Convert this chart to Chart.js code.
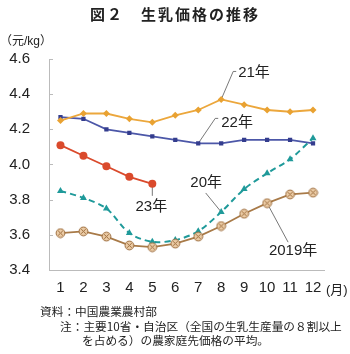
<!DOCTYPE html>
<html lang="ja">
<head>
<meta charset="utf-8">
<script src="https://cdn.jsdelivr.net/npm/chart.js@4/dist/chart.umd.min.js"></script>
<style>
  html, body { margin: 0; padding: 0; background: #fff; }
  #wrap { position: relative; width: 350px; height: 354px; overflow: hidden;
          font-family: "Liberation Sans", "Noto Sans CJK JP", sans-serif; color: #222; }
  #wrap canvas { position: absolute; left: 0; top: 0; }
  .txt { position: absolute; white-space: nowrap; line-height: 1; }
  #title { left: 0; width: 350px; text-align: center; top: 6px; font-size: 15px; font-weight: bold;
           letter-spacing: 2px; font-family: "Noto Sans CJK JP", sans-serif; }
  #unit { left: 0; top: 35px; font-size: 12px; }
  #month { left: 326px; top: 283px; font-size: 13px; }
  .note { font-size: 11.7px; font-family: "Noto Sans CJK JP", sans-serif; }
</style>
</head>
<body>
<div id="wrap">
  <canvas id="chart" width="350" height="354"></canvas>
  <div class="txt" id="title">図２　生乳価格の推移</div>
  <div class="txt" id="unit">（元/kg）</div>
  <div class="txt" id="month">(月)</div>
  <div class="txt note" style="left:40px; top:305px;">資料：中国農業農村部</div>
  <div class="txt note" style="left:60px; top:320px;">注：主要10省・自治区（全国の生乳生産量の８割以上</div>
  <div class="txt note" style="left:82px; top:334px;">を占める）の農家庭先価格の平均。</div>
</div>
<script>
const months = ['1', '2', '3', '4', '5', '6', '7', '8', '9', '10', '11', '12'];
const y2019 = [3.61, 3.62, 3.59, 3.54, 3.53, 3.55, 3.59, 3.65, 3.72, 3.78, 3.83, 3.84];
const y2020 = [3.85, 3.81, 3.75, 3.61, 3.56, 3.57, 3.62, 3.73, 3.86, 3.95, 4.03, 4.15];
const y2021 = [4.25, 4.29, 4.29, 4.26, 4.24, 4.28, 4.31, 4.37, 4.34, 4.31, 4.30, 4.31];
const y2022 = [4.27, 4.26, 4.20, 4.18, 4.16, 4.14, 4.12, 4.12, 4.14, 4.14, 4.14, 4.12];
const y2023 = [4.11, 4.05, 3.99, 3.93, 3.89];
const seriesNames = ['2019年', '20年', '21年', '22年', '23年'];

const FONT = '"Liberation Sans", "Noto Sans CJK JP", sans-serif';

// circled x marker for 2019
function makeCrossCircle() {
    const c = document.createElement('canvas');
    c.width = 11; c.height = 11;
    const g = c.getContext('2d');
    g.fillStyle = '#EBCBA5';
    g.strokeStyle = '#9B6B3B';
    g.lineWidth = 1;
    g.beginPath(); g.arc(5.5, 5.5, 4.4, 0, Math.PI * 2); g.fill(); g.stroke();
    g.beginPath();
    g.moveTo(3.2, 3.2); g.lineTo(7.8, 7.8);
    g.moveTo(7.8, 3.2); g.lineTo(3.2, 7.8);
    g.stroke();
    return c;
}

// label text + leader line, offsets from the anchor point
const callouts = [
    { ds: 2, idx: 7, lead: [[12, -28], [15, -28]], text: seriesNames[2], tx: 17, ty: -26.5, align: 'left' },
    { ds: 3, idx: 6, lead: [[17, -25], [20, -25]], text: seriesNames[3], tx: 23, ty: -21, align: 'left' },
    { ds: 4, idx: 4, lead: [[0, 12]], text: seriesNames[4], tx: -1, ty: 23, align: 'center' },
    { ds: 1, idx: 7, lead: [[-15.5, -19]], text: seriesNames[1], tx: -15, ty: -29.5, align: 'center' },
    { ds: 0, idx: 9, lead: [[21, 39]], text: seriesNames[0], tx: 26, ty: 48, align: 'center' }
];

const calloutPlugin = {
    id: 'callouts',
    beforeDatasetsDraw(chart) {
        const ctx = chart.ctx;
        ctx.save();
        ctx.strokeStyle = '#555';
        ctx.lineWidth = 0.8;
        callouts.forEach(c => {
            const p = chart.getDatasetMeta(c.ds).data[c.idx];
            ctx.beginPath();
            ctx.moveTo(p.x, p.y);
            c.lead.forEach(([dx, dy]) => ctx.lineTo(p.x + dx, p.y + dy));
            ctx.stroke();
        });
        ctx.restore();
    },
    afterDraw(chart) {
        const ctx = chart.ctx;
        ctx.save();
        ctx.fillStyle = '#222';
        ctx.font = '15px ' + FONT;
        ctx.textBaseline = 'middle';
        callouts.forEach(c => {
            const p = chart.getDatasetMeta(c.ds).data[c.idx];
            ctx.textAlign = c.align;
            ctx.fillText(c.text, p.x + c.tx, p.y + c.ty);
        });
        // small inner ticks on the y axis
        const ys = chart.scales.y;
        ctx.strokeStyle = '#bbb';
        ctx.lineWidth = 1;
        ys.ticks.forEach(t => {
            const y = Math.round(ys.getPixelForValue(t.value)) + 0.5;
            ctx.beginPath();
            ctx.moveTo(ys.right, y);
            ctx.lineTo(ys.right + 4, y);
            ctx.stroke();
        });
        ctx.restore();
    }
};

new Chart(document.getElementById('chart'), {
    type: 'line',
    data: {
        labels: months,
        datasets: [{
            label: seriesNames[0],
            data: y2019,
            borderColor: '#A87A48',
            borderWidth: 1.8,
            pointStyle: makeCrossCircle(),
            tension: 0
        }, {
            label: seriesNames[1],
            data: y2020,
            borderColor: '#1F9A9A',
            borderWidth: 2,
            borderDash: [6, 4],
            pointStyle: 'triangle',
            pointRadius: 4,
            pointBackgroundColor: '#1F9A9A',
            pointBorderColor: '#1F9A9A',
            pointBorderWidth: 0,
            tension: 0.3
        }, {
            label: seriesNames[2],
            data: y2021,
            borderColor: '#ECA73C',
            borderWidth: 1.8,
            pointStyle: 'rectRot',
            pointRadius: 3.5,
            pointBackgroundColor: '#E9A232',
            pointBorderColor: '#E9A232',
            pointBorderWidth: 0,
            tension: 0
        }, {
            label: seriesNames[3],
            data: y2022,
            borderColor: '#4C57A8',
            borderWidth: 1.8,
            pointStyle: 'rect',
            pointRadius: 3,
            pointBackgroundColor: '#343D8E',
            pointBorderColor: '#343D8E',
            pointBorderWidth: 0,
            tension: 0
        }, {
            label: seriesNames[4],
            data: y2023,
            borderColor: '#DA4A2C',
            borderWidth: 1.8,
            pointStyle: 'circle',
            pointRadius: 4,
            pointBackgroundColor: '#DA4A2C',
            pointBorderColor: '#DA4A2C',
            pointBorderWidth: 0,
            tension: 0
        }]
    },
    options: {
        responsive: false,
        animation: false,
        events: [],
        layout: { padding: { left: 0, right: 25.5, top: 59, bottom: 54 } },
        plugins: {
            legend: { display: false },
            tooltip: { enabled: false }
        },
        scales: {
            x: {
                offset: true,
                grid: { display: false, drawTicks: false },
                border: { color: '#bbb', width: 1 },
                ticks: { color: '#222', font: { size: 15, family: FONT }, padding: 9, maxRotation: 0, autoSkip: false },
                afterFit(scale) { scale.height = 30; }
            },
            y: {
                min: 3.4,
                max: 4.6,
                grid: { display: false, drawTicks: false },
                border: { color: '#bbb', width: 1 },
                ticks: {
                    stepSize: 0.2,
                    color: '#222',
                    font: { size: 15, family: FONT },
                    padding: 19,
                    callback: v => v.toFixed(1)
                },
                afterFit(scale) { scale.width = 49; }
            }
        }
    },
    plugins: [calloutPlugin]
});
</script>
</body>
</html>
